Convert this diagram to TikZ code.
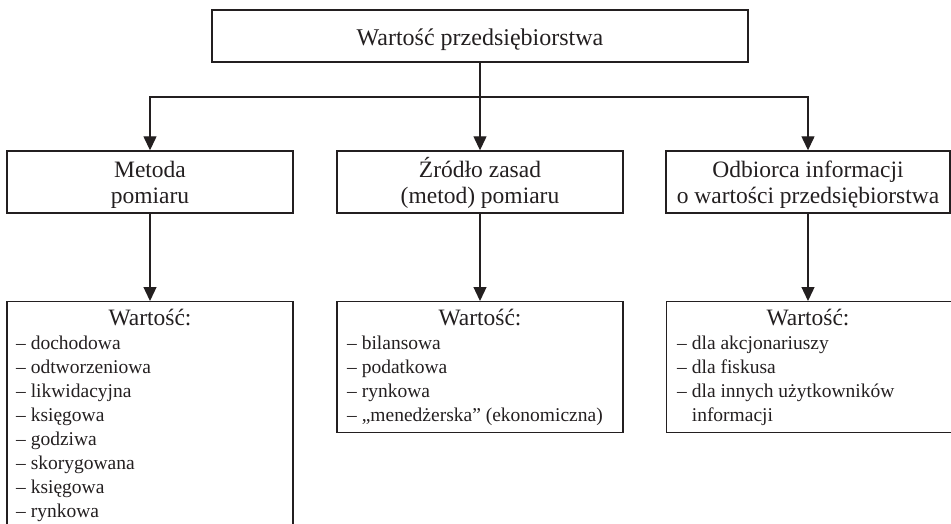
\documentclass[tikz,border=0pt]{standalone}
\usepackage{fontspec}
\setmainfont{Liberation Serif}
\usetikzlibrary{arrows.meta}
\definecolor{ink}{HTML}{231F20}
\begin{document}
\begin{tikzpicture}[x=1pt,y=-1pt,
  box/.style={draw=ink, line width=1.4pt, rectangle, inner sep=0pt},
  conn/.style={draw=ink, line width=1.3pt, -{Triangle[length=14pt,width=13pt]}},
  lbl/.style={text=ink, inner sep=0pt, anchor=base},
  toptext/.style={lbl, font=\fontsize{24}{28}\selectfont},
  midtext/.style={lbl, font=\fontsize{23.5}{26}\selectfont},
  headtext/.style={lbl, font=\fontsize{23.5}{26}\selectfont},
  itemtext/.style={text=ink, inner sep=0pt, anchor=base west, font=\fontsize{19.5}{24}\selectfont},
]
\useasboundingbox (0,0) rectangle (951,523);

% root
\node[box, minimum width=536pt, minimum height=52pt] (top) at (480,36) {};
\node[toptext] (toplbl) at (480,45) {Wartość przedsiębiorstwa};

% second level
\node[box, minimum width=286pt, minimum height=62pt] (meth) at (150,182) {};
\node[midtext] (meth1) at (150,177) {Metoda};
\node[midtext] (meth2) at (150,203) {pomiaru};

\node[box, minimum width=286pt, minimum height=62pt] (src) at (480,182) {};
\node[midtext] (src1) at (480,177) {Źródło zasad};
\node[midtext] (src2) at (480,203) {(metod) pomiaru};

\node[box, minimum width=284pt, minimum height=62pt] (rec) at (808,182) {};
\node[midtext] (rec1) at (808,177) {Odbiorca informacji};
\node[midtext] (rec2) at (808,203) {o wartości przedsiębiorstwa};

% third level
\node[box, minimum width=286pt, minimum height=260pt, anchor=north] (methv) at (150,301) {};
\node[headtext] (methh) at (150,325) {Wartość:};
\foreach \t [count=\i] in {dochodowa, odtworzeniowa, likwidacyjna, księgowa,
    godziwa, skorygowana, księgowa, rynkowa}
  \node[itemtext] (methi\i) at (16,325+24*\i) {–\ \t};

\node[box, minimum width=286pt, minimum height=131pt, anchor=north] (srcv) at (480,301) {};
\node[headtext] (srch) at (480,325) {Wartość:};
\foreach \t [count=\i] in {bilansowa, podatkowa, rynkowa, „menedżerska” (ekonomiczna)}
  \node[itemtext] (srci\i) at (347,325+24*\i) {–\ \t};

\node[box, minimum width=304pt, minimum height=131pt, anchor=north west] (recv) at (666,301) {};
\node[headtext] (rech) at (808,325) {Wartość:};
\foreach \t [count=\i] in {dla akcjonariuszy, dla fiskusa, dla innych użytkowników}
  \node[itemtext] (reci\i) at (677,325+24*\i) {–\ \t};
\node[itemtext] (reci4) at (677,421) {\phantom{–}\ informacji};

% connectors
\coordinate (split) at (480,97);
\draw[conn] (top.south) -- (src.north);
\draw[conn] (split) -| (meth.north);
\draw[conn] (split) -| (rec.north);
\draw[conn] (meth.south) -- (methv.north);
\draw[conn] (src.south) -- (srcv.north);
\draw[conn] (rec.south) -- (rec.south |- recv.north);
\end{tikzpicture}
\end{document}
